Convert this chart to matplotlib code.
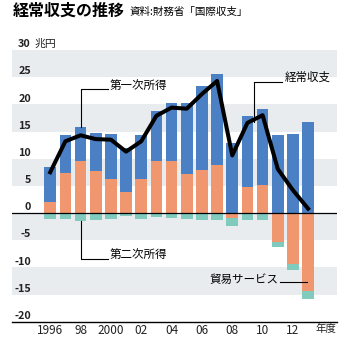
import matplotlib.pyplot as plt

plt.rcParams['font.family'] = ['Noto Sans CJK JP', 'DejaVu Sans']

# fiscal years 1996-2013, trillion yen
years = list(range(1996, 2014))
trade = [1.95, 7.35, 9.5, 7.8, 6.3, 3.8, 6.3, 9.5, 9.5, 7.2, 7.95, 8.9, -0.9, 4.7, 5.1, -5.3, -9.4, -14.4]
primary = [6.6, 6.95, 6.4, 7.0, 8.3, 8.1, 8.0, 9.2, 10.8, 13.1, 15.35, 16.7, 12.9, 13.1, 14.1, 14.4, 14.6, 16.7]
secondary = [-1.1, -1.05, -1.55, -1.2, -1.05, -0.6, -1.05, -0.8, -0.9, -1.05, -1.35, -1.35, -1.4, -1.2, -1.2, -1.0, -1.0, -1.5]
current = [7.5, 13.2, 14.3, 13.6, 13.5, 11.3, 13.2, 17.9, 19.4, 19.2, 21.9, 24.3, 10.6, 16.6, 18.0, 8.1, 4.2, 0.8]

xtick_years = [1996, 1998, 2000, 2002, 2004, 2006, 2008, 2010, 2012]
xtick_labels = ['1996', '98', '2000', '02', '04', '06', '08', '10', '12']
ytick_values = [-20, -15, -10, -5, 0, 5, 10, 15, 20, 25, 30]

blue = '#4c80c5'
salmon = '#f0976f'
teal = '#80cbbd'
band = '#e9ecef'

fig = plt.figure(figsize=(3.52, 3.46), dpi=100)
ax = fig.add_axes([0.034, 0.0702, 0.9224, 0.7853])

for lo in [25, 15, 5, -5, -15]:
    ax.axhspan(lo, lo + 5, color=band, lw=0, zorder=0)

blue_bottom = [max(t, 0) for t in trade]
teal_bottom = [min(t, 0) for t in trade]
w = 0.77
ax.bar(years, trade, width=w, color=salmon, zorder=2)
ax.bar(years, primary, bottom=blue_bottom, width=w, color=blue, zorder=2)
ax.bar(years, secondary, bottom=teal_bottom, width=w, color=teal, zorder=2)

ax.axhline(0, color='black', lw=0.9, zorder=3)
ax.axhline(-20, color='black', lw=1.0, zorder=3, clip_on=False)

ax.plot(years, current, color='black', lw=2.9, zorder=4)

ax.set_xlim(1993.48, 2014.88)
ax.set_ylim(-20, 30)
for s in ax.spines.values():
    s.set_visible(False)
ax.set_yticks([])
ax.set_xticks(xtick_years)
ax.set_xticklabels(xtick_labels, fontsize=8.5, color='#222222')
ax.tick_params(axis='x', length=0, pad=2)

for v in ytick_values:
    ax.annotate(str(v), xy=(1994.73, v), xytext=(0, 2), textcoords='offset points',
                ha='right', va='baseline', fontsize=7.8, fontweight='bold', color='#222222')
ax.annotate('兆円', xy=(1994.95, 30), xytext=(0, 2), textcoords='offset points',
            ha='left', va='baseline', fontsize=7.8, color='#222222', annotation_clip=False)

ax.text(2014.15, -21.35, '年度', ha='center', va='center', fontsize=7.5, color='#222222')

# leaders
lc = dict(color='black', lw=0.8, zorder=5)
ax.plot([1998, 1998, 1999.81], [15.9, 22.8, 22.8], **lc)
ax.text(1999.94, 23.4, '第一次所得', ha='left', va='center', fontsize=8.3)

ax.plot([2009.45, 2009.45, 2011.26], [16.7, 24.2, 24.2], **lc)
ax.text(2011.48, 24.9, '経常収支', ha='left', va='center', fontsize=8.3)

ax.plot([1998, 1998, 1999.81], [-1.55, -8.47, -8.47], **lc)
ax.text(1999.94, -7.7, '第二次所得', ha='left', va='center', fontsize=8.3)

ax.plot([2011.15, 2012.95], [-12.78, -12.78], **lc)
ax.text(2011.03, -12.28, '貿易サービス', ha='right', va='center', fontsize=8.3)

fig.text(0.036, 0.968, '経常収支の推移', ha='left', va='center', fontsize=11.5, fontweight='bold')
fig.text(0.368, 0.966, '資料:財務省「国際収支」', ha='left', va='center', fontsize=7.6)

fig.savefig('out.png', dpi=100)
